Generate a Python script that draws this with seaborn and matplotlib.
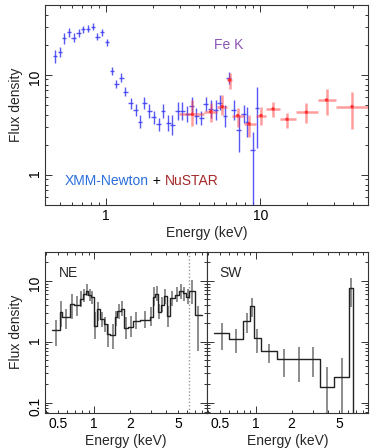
import numpy as np
import matplotlib
matplotlib.use("Agg")
import matplotlib.pyplot as plt
import seaborn as sns
from matplotlib.ticker import LogLocator, NullFormatter, FuncFormatter

sns.set_theme(style="ticks")
plt.rcParams['font.family'] = ['Liberation Sans', 'DejaVu Sans']

# ---- top panel: XMM-Newton points ----
xmm_energy = [0.464, 0.50, 0.533, 0.574, 0.616, 0.663, 0.707, 0.762, 0.82, 0.875, 0.938,
              1.01, 1.088, 1.16, 1.25, 1.33, 1.44, 1.55, 1.66, 1.77, 1.90, 2.03, 2.19,
              2.34, 2.53, 2.69, 2.90, 3.12, 3.36, 3.59, 3.85, 4.14, 4.42, 4.76, 5.13,
              5.46, 5.89, 6.25, 6.73, 7.25, 7.80, 8.2, 8.92, 9.51]
xmm_flux = [15.3, 16.9, 23.3, 26.7, 23.6, 26.5, 28.6, 29.1, 30.4, 24.2, 26.7,
            21.2, 11.0, 8.13, 9.4, 6.8, 5.2, 4.47, 3.41, 5.2, 4.37, 3.77, 3.21,
            4.37, 3.29, 3.16, 4.37, 4.37, 4.07, 4.93, 3.89, 3.69, 5.13, 4.54, 4.47,
            5.29, 3.89, 9.27, 4.47, 2.82, 4.07, 3.41, 1.78, 4.64]
xmm_flux_lo = [13.2, 15.1, 20.6, 24.0, 21.2, 24.2, 26.3, 26.8, 27.9, 22.1, 24.5,
               19.6, 10.0, 7.36, 8.45, 6.11, 4.56, 3.89, 2.92, 4.53, 3.75, 3.23, 2.75,
               3.69, 2.72, 2.51, 3.55, 3.55, 3.37, 4.08, 3.22, 3.12, 4.4, 3.69, 3.55,
               4.47, 3.02, 8.07, 3.55, 1.71, 3.29, 2.42, 0.01, 1.85]
xmm_flux_hi = [17.7, 19.0, 26.3, 29.7, 26.3, 29.1, 31.1, 31.6, 33.1, 26.5, 29.0,
               22.9, 12.1, 8.98, 10.5, 7.57, 5.93, 5.13, 3.98, 5.97, 5.1, 4.4, 3.75,
               5.17, 3.98, 3.98, 5.38, 5.38, 4.92, 5.96, 4.7, 4.37, 5.98, 5.59, 5.63,
               6.26, 5.01, 10.6, 5.63, 3.98, 5.03, 4.82, 2.71, 7.64]
xmm_bin_frac = 0.035  # half bin width, fraction of energy

# ---- top panel: NuSTAR points ----
nu_energy = [3.62, 4.76, 5.66, 6.31, 7.14, 8.45, 10.1, 12.1, 14.9, 19.9, 26.9, 39.4]
nu_e_lo = [2.97, 4.31, 5.25, 6.1, 6.56, 7.8, 9.38, 10.9, 13.5, 17.0, 23.6, 31.2]
nu_e_hi = [4.31, 5.25, 6.1, 6.56, 7.8, 9.38, 10.9, 13.5, 17.0, 23.6, 31.2, 50.0]
nu_flux = [4.04, 4.30, 4.82, 8.91, 3.92, 3.24, 3.92, 4.57, 3.60, 4.24, 5.62, 4.82]
nu_flux_lo = [3.09, 3.41, 3.98, 7.19, 3.04, 2.42, 3.16, 3.77, 2.93, 3.34, 4.0, 2.86]
nu_flux_hi = [5.62, 5.21, 6.31, 10.4, 4.64, 3.98, 4.82, 5.41, 4.14, 5.21, 7.2, 6.81]

# ---- bottom panels: NE and SW binned spectra ----
ne_edges = [0.444, 0.521, 0.541, 0.631, 0.681, 0.764, 0.804, 0.858, 0.897, 0.938, 1.0,
            1.052, 1.122, 1.212, 1.275, 1.359, 1.496, 1.565, 1.668, 1.778, 1.932, 2.10,
            2.416, 2.93, 3.08, 3.22, 3.44, 3.59, 3.83, 4.03, 4.30, 4.73, 5.14, 5.48,
            5.84, 6.23, 6.94, 7.89]
ne_flux = [1.56, 3.11, 2.51, 4.16, 4.01, 5.03, 6.08, 6.89, 5.92, 5.35, 1.83, 3.44,
           2.36, 1.95, 1.34, 1.30, 2.51, 3.23, 3.44, 1.68, 1.76, 2.21, 2.27, 2.51,
           5.35, 6.08, 3.03, 4.01, 5.70, 2.67, 5.22, 5.85, 6.72, 6.23, 5.35, 6.89, 2.78]
ne_lo = [0.86, 1.72, 1.62, 2.36, 2.67, 3.67, 4.43, 5.70, 4.72, 4.16, 1.11, 2.21,
         1.72, 1.42, 0.81, 0.76, 1.83, 2.36, 2.67, 1.11, 1.18, 1.62, 1.68, 1.83,
         3.91, 4.72, 2.36, 3.03, 4.16, 1.72, 3.91, 4.43, 5.03, 4.72, 4.16, 4.16, 0.71]
ne_hi = [2.27, 4.72, 3.44, 6.08, 5.70, 6.89, 7.34, 8.87, 7.34, 6.89, 3.03, 4.43,
         3.03, 2.51, 1.95, 1.95, 3.23, 4.16, 4.72, 2.51, 2.67, 3.03, 3.23, 3.67,
         7.82, 8.33, 4.16, 5.35, 7.34, 3.91, 6.89, 7.82, 8.87, 7.82, 7.34, 10.3, 3.91]

sw_edges = [0.45, 0.60, 0.789, 0.897, 0.969, 1.10, 1.496, 1.98, 2.66, 3.44, 4.55, 6.07, 6.51]
sw_flux = [1.36, 1.09, 2.17, 3.84, 1.13, 0.706, 0.515, 0.515, 0.515, 0.181, 0.26, 7.48]
sw_lo = [0.74, 0.64, 1.40, 2.56, 0.64, 0.44, 0.26, 0.22, 0.26, 0.01, 0.01, 3.74]
sw_hi = [1.99, 1.59, 2.90, 5.13, 1.61, 0.93, 0.77, 0.82, 0.82, 0.386, 0.53, 10.9]

fe_line = 6.2

fig = plt.figure(figsize=(3.74, 4.48), dpi=100)
ax_top = fig.add_axes([0.1203, 0.5424, 0.8636, 0.4464])
ax_ne = fig.add_axes([0.1203, 0.0788, 0.4332, 0.3594])
ax_sw = fig.add_axes([0.5535, 0.0788, 0.4305, 0.3594])


def style_axis(ax, xlim, ylim, minor_labels=()):
    ax.set_xscale('log')
    ax.set_yscale('log')
    ax.set_xlim(*xlim)
    ax.set_ylim(*ylim)
    for s in ax.spines.values():
        s.set_color('#333333')
        s.set_linewidth(0.8)
    ax.xaxis.set_major_locator(LogLocator(base=10))
    ax.xaxis.set_minor_locator(LogLocator(base=10, subs=np.arange(2, 10)))
    ax.yaxis.set_major_locator(LogLocator(base=10))
    ax.yaxis.set_minor_locator(LogLocator(base=10, subs=np.arange(2, 10)))
    ax.xaxis.set_major_formatter(FuncFormatter(lambda v, p: f"{v:g}"))
    ax.yaxis.set_major_formatter(FuncFormatter(lambda v, p: f"{v:g}"))
    if minor_labels:
        ax.xaxis.set_minor_formatter(FuncFormatter(
            lambda v, p: f"{v:g}" if any(abs(v - m) < 1e-6 for m in minor_labels) else ""))
    else:
        ax.xaxis.set_minor_formatter(NullFormatter())
    ax.yaxis.set_minor_formatter(NullFormatter())
    ax.tick_params(which='both', direction='in', top=True, right=True,
                   colors='#333333', labelcolor='black', labelsize=10, width=0.7)
    ax.tick_params(which='major', length=5)
    ax.tick_params(which='minor', length=2.5)
    ax.tick_params(axis='x', which='both', pad=3)
    ax.tick_params(axis='y', which='both', labelrotation=90, pad=2)
    ax.set_facecolor('white')


# ---- top panel ----
style_axis(ax_top, (0.4, 50), (0.5, 50))
xe = np.array(xmm_energy)
xf = np.array(xmm_flux)
ax_top.errorbar(xe, xf, xerr=xe * xmm_bin_frac,
                yerr=[xf - np.array(xmm_flux_lo), np.array(xmm_flux_hi) - xf],
                fmt='none', ecolor='#3b3bf5', elinewidth=1.0, alpha=0.85, zorder=3)
ne_ = np.array(nu_energy)
nf = np.array(nu_flux)
ax_top.errorbar(ne_, nf, xerr=[ne_ - np.array(nu_e_lo), np.array(nu_e_hi) - ne_],
                yerr=[nf - np.array(nu_flux_lo), np.array(nu_flux_hi) - nf],
                fmt='none', ecolor='#ff3b3b', elinewidth=1.8, alpha=0.5, zorder=4)
sns.scatterplot(x=nu_energy, y=nu_flux, ax=ax_top, color='#ff3030', marker='o',
                s=6, edgecolor='none', zorder=5, legend=False)
ax_top.set_xlabel('Energy (keV)', fontsize=10, labelpad=2)
ax_top.set_ylabel('Flux density', fontsize=10, labelpad=4)
ax_top.text(6.2, 20, 'Fe K', color='#8a55b0', fontsize=10, ha='center', va='center')
t1 = ax_top.text(0.54, 0.8, 'XMM-Newton', color='#2a6fdb', fontsize=10,
                 ha='left', va='baseline')
t2 = ax_top.annotate(' + ', xy=(1, 0), xycoords=t1, color='black', fontsize=10,
                     ha='left', va='bottom')
ax_top.annotate('NuSTAR', xy=(1, 0), xycoords=t2, color='#a52a2a', fontsize=10,
                ha='left', va='bottom')


# ---- bottom panels ----
def draw_spectrum(ax, edges, flux, lo, hi):
    edges = np.array(edges)
    flux = np.array(flux)
    centers = np.sqrt(edges[:-1] * edges[1:])
    ax.errorbar(centers, flux, yerr=[flux - np.array(lo), np.array(hi) - flux],
                fmt='none', ecolor='#7a7a7a', elinewidth=1.2, zorder=2)
    sns.lineplot(x=edges, y=np.append(flux, flux[-1]), ax=ax, drawstyle='steps-post',
                 color='#222222', linewidth=1.0, estimator=None, sort=False, zorder=3)


bl_xlim = (0.39, 8.75)
bl_ylim = (0.068, 30)
style_axis(ax_ne, bl_xlim, bl_ylim, minor_labels=(0.5, 2, 5))
style_axis(ax_sw, bl_xlim, bl_ylim, minor_labels=(0.5, 2, 5))
draw_spectrum(ax_ne, ne_edges, ne_flux, ne_lo, ne_hi)
draw_spectrum(ax_sw, sw_edges, sw_flux, sw_lo, sw_hi)
ax_sw.vlines(sw_edges[-1], bl_ylim[0], sw_flux[-1], color='#222222', linewidth=1.0, zorder=3)
ax_ne.axvline(fe_line, color='#999999', linestyle=(0, (1, 1.5)), linewidth=1.0, zorder=1)
ax_sw.tick_params(axis='y', which='both', labelleft=False)

ax_ne.set_xlabel('Energy (keV)', fontsize=10, labelpad=2)
ax_sw.set_xlabel('Energy (keV)', fontsize=10, labelpad=2)
ax_ne.set_ylabel('Flux density', fontsize=10, labelpad=4)
ax_sw.set_ylabel('')
ax_ne.text(0.088, 0.866, 'NE', transform=ax_ne.transAxes, fontsize=10, ha='left', va='center')
ax_sw.text(0.076, 0.866, 'SW', transform=ax_sw.transAxes, fontsize=10, ha='left', va='center')

fig.savefig('out.png', dpi=100)
